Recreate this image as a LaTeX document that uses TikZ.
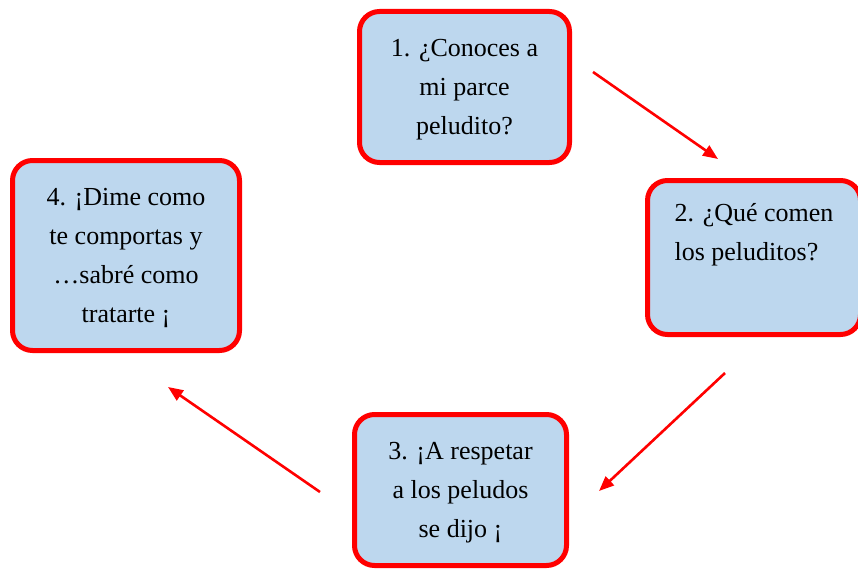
\documentclass[tikz,border=0pt]{standalone}
\usepackage{fontspec}
\setmainfont{Liberation Serif}
\usetikzlibrary{arrows.meta}
\definecolor{boxfill}{HTML}{BDD7EE}
\definecolor{boxred}{HTML}{FF0000}
\newcommand{\toppad}{\rule{0pt}{23pt}}
\begin{document}
\begin{tikzpicture}[x=1pt,y=-1pt,
  stepbox/.style={draw=boxred, line width=5pt, fill=boxfill, rounded corners=20pt,
    inner sep=0pt, align=center,
    font=\fontsize{26}{39}\selectfont},
  flow/.style={draw=boxred, line width=2.6pt,
    -{Triangle[length=15pt,width=12pt]}}]
\useasboundingbox (0,0) rectangle (858,575);
\node[stepbox, minimum width=210pt, minimum height=151pt] (b1) at (464.5,87)
  {\toppad1. ¿Conoces a\\mi parce\\peludito?};
\node[stepbox, minimum width=213pt, minimum height=154pt, align=left] (b2) at (754,257.5)
  {2. ¿Qué comen\\los peluditos?\\\strut};
\node[stepbox, minimum width=212pt, minimum height=151pt] (b3) at (460.5,490)
  {\toppad3. ¡A respetar\\a los peludos\\se dijo ¡};
\node[stepbox, minimum width=227pt, minimum height=190pt] (b4) at (126,255.5)
  {\toppad4. ¡Dime como\\te comportas y\\…sabré como\\tratarte ¡};
\coordinate (a1s) at (593,72);
\coordinate (a1e) at (718,159);
\coordinate (a2s) at (725,373);
\coordinate (a2e) at (599,491);
\coordinate (a3s) at (320,492);
\coordinate (a3e) at (168,387);
\draw[flow] (a1s) -- (a1e);
\draw[flow] (a2s) -- (a2e);
\draw[flow] (a3s) -- (a3e);
\end{tikzpicture}
\end{document}
